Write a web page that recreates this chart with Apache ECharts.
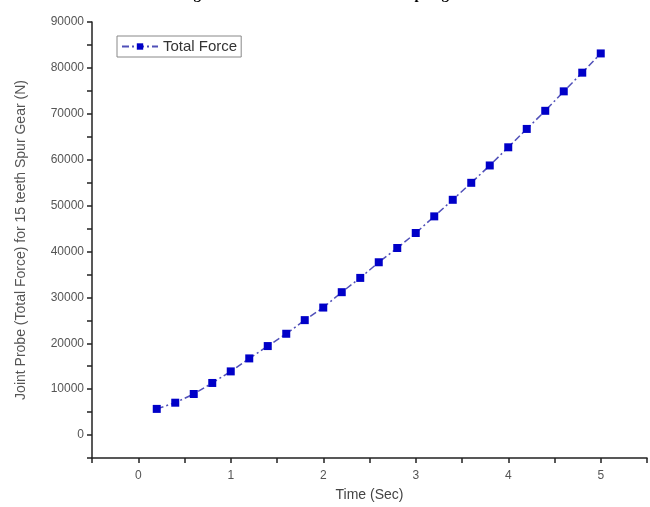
<!DOCTYPE html>
<html>
<head>
<meta charset="utf-8">
<script src="https://cdn.jsdelivr.net/npm/echarts@6/dist/echarts.min.js"></script>
<style>
  html, body { margin: 0; padding: 0; background: #fff; }
  #main { width: 650px; height: 507px; }
</style>
</head>
<body>
<div id="main"></div>
<script>
// time (sec) and total force (N)
const timeSec = [0.2, 0.4, 0.6, 0.8, 1.0, 1.2, 1.4, 1.6, 1.8, 2.0, 2.2, 2.4, 2.6,
  2.8, 3.0, 3.2, 3.4, 3.6, 3.8, 4.0, 4.2, 4.4, 4.6, 4.8, 5.0]
const totalForce = [5700, 7050, 8950, 11350, 13870, 16700, 19390, 22070, 25040, 27780,
  31130, 34240, 37650, 40760, 44020, 47650, 51260, 54960, 58740, 62700, 66700, 70650,
  74890, 78960, 83150]
const xLabels = ['0', '1', '2', '3', '4', '5']
const yLabels = ['0', '10000', '20000', '30000', '40000', '50000', '60000', '70000', '80000', '90000']

const seriesData = timeSec.map((t, i) => [t, totalForce[i]])

const chart = echarts.init(document.getElementById('main'))
chart.setOption({
  animation: false,
  backgroundColor: '#fff',
  title: {
    text: 'Figure 14: Total Forces on 15 teeth Spur gear',
    left: 'center',
    top: -17,
    textStyle: { fontFamily: 'Liberation Serif', fontWeight: 'bold', fontSize: 15, color: '#000' }
  },
  legend: {
    left: 117,
    top: 36,
    padding: [3, 4, 3, 4],
    itemWidth: 36,
    itemHeight: 8,
    itemGap: 4,
    borderColor: '#888',
    borderWidth: 1,
    textStyle: { fontFamily: 'Liberation Sans', fontSize: 15, color: '#333' },
    data: ['Total Force']
  },
  grid: { left: 92, top: 22, width: 560, height: 437.5, containLabel: false },
  xAxis: {
    type: 'value',
    min: -0.5,
    max: 5.5,
    interval: 0.5,
    name: 'Time (Sec)',
    nameLocation: 'middle',
    nameGap: 30,
    nameTextStyle: { fontFamily: 'Liberation Sans', fontSize: 14, color: '#444' },
    axisLine: { onZero: false, lineStyle: { color: '#222', width: 1.5 } },
    axisTick: { inside: false, length: 5, lineStyle: { color: '#222', width: 1.5 } },
    axisLabel: {
      margin: 12,
      fontFamily: 'Liberation Sans', fontSize: 12, color: '#555',
      formatter: v => {
        const s = String(Math.round(v * 10) / 10)
        return xLabels.includes(s) ? s : ''
      }
    },
    splitLine: { show: false }
  },
  yAxis: {
    type: 'value',
    min: -5000,
    max: 90000,
    interval: 5000,
    name: 'Joint Probe (Total Force) for 15 teeth Spur Gear (N)',
    nameLocation: 'middle',
    nameGap: 64,
    nameTextStyle: { fontFamily: 'Liberation Sans', fontSize: 14, color: '#555' },
    axisLine: { show: true, onZero: false, lineStyle: { color: '#222', width: 1.5 } },
    axisTick: { show: true, inside: false, length: 5, lineStyle: { color: '#222', width: 1.5 } },
    axisLabel: {
      margin: 8,
      fontFamily: 'Liberation Sans', fontSize: 12, color: '#555',
      formatter: v => (yLabels.includes(String(v)) ? String(v) : '')
    },
    splitLine: { show: false }
  },
  series: [
    {
      name: 'Total Force',
      type: 'line',
      data: seriesData,
      symbol: 'rect',
      symbolSize: 8,
      itemStyle: { color: '#0000c8' },
      lineStyle: { color: '#5050b8', width: 1.5, type: [7, 3, 2, 3] },
      clip: false
    }
  ]
})
</script>
</body>
</html>
